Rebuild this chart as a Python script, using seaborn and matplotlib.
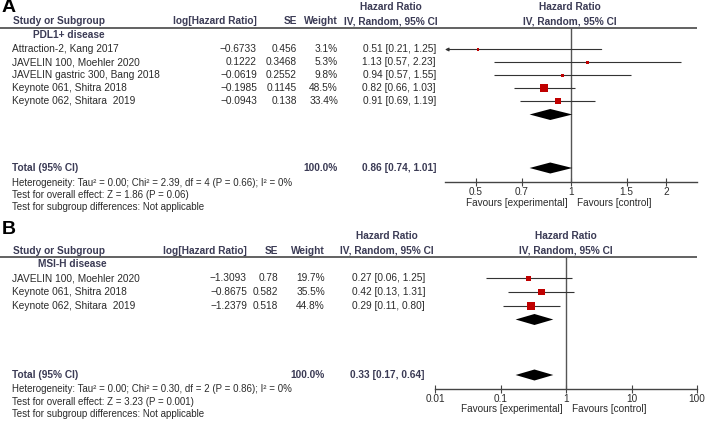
import numpy as np
import matplotlib
matplotlib.use("Agg")
import matplotlib.pyplot as plt
import seaborn as sns
from matplotlib.ticker import NullLocator

sns.set_theme(style="white")
plt.rcParams['font.family'] = ['Liberation Sans', 'DejaVu Sans']

# ---- data: panel A (PDL1+ disease)
studies_a = ["Attraction-2, Kang 2017", "JAVELIN 100, Moehler 2020",
             "JAVELIN gastric 300, Bang 2018", "Keynote 061, Shitra 2018",
             "Keynote 062, Shitara  2019"]
loghr_a = [-0.6733, 0.1222, -0.0619, -0.1985, -0.0943]
se_a = [0.456, 0.3468, 0.2552, 0.1145, 0.138]
weight_a = [3.1, 5.3, 9.8, 48.5, 33.4]
hr_a = [0.51, 1.13, 0.94, 0.82, 0.91]
lo_a = [0.21, 0.57, 0.57, 0.66, 0.69]
hi_a = [1.25, 2.23, 1.55, 1.03, 1.19]
pooled_a = [0.86, 0.74, 1.01]
ticks_a = [0.5, 0.7, 1, 1.5, 2]
stats_a = ["Heterogeneity: Tau\u00b2 = 0.00; Chi\u00b2 = 2.39, df = 4 (P = 0.66); I\u00b2 = 0%",
           "Test for overall effect: Z = 1.86 (P = 0.06)",
           "Test for subgroup differences: Not applicable"]

# ---- data: panel B (MSI-H disease)
studies_b = ["JAVELIN 100, Moehler 2020", "Keynote 061, Shitra 2018",
             "Keynote 062, Shitara  2019"]
loghr_b = [-1.3093, -0.8675, -1.2379]
se_b = [0.78, 0.582, 0.518]
weight_b = [19.7, 35.5, 44.8]
hr_b = [0.27, 0.42, 0.29]
lo_b = [0.06, 0.13, 0.11]
hi_b = [1.25, 1.31, 0.80]
pooled_b = [0.33, 0.17, 0.64]
ticks_b = [0.01, 0.1, 1, 10, 100]
stats_b = ["Heterogeneity: Tau\u00b2 = 0.00; Chi\u00b2 = 0.30, df = 2 (P = 0.86); I\u00b2 = 0%",
           "Test for overall effect: Z = 3.23 (P = 0.001)",
           "Test for subgroup differences: Not applicable"]

W, H = 709, 426
HEAD = '#3b3b55'
TXT = '#2b2b2b'
RED = '#c00000'
FS = 7.3

fig = plt.figure(figsize=(W / 100, H / 100), dpi=100)
bg = fig.add_axes([0, 0, 1, 1])
bg.set_xlim(0, W)
bg.set_ylim(H, 0)
bg.axis('off')


def fmt(v):
    return str(v).replace('-', '\u2212')


def panel(letter, letter_y, top, subgroup, studies, loghr, se, weight, hr, lo, hi, pooled,
          ticks, xlim, stats, cols, row0, step, diam_y, total_y, axis_y, sub_x):
    col_log, col_se, col_w, col_hr, hr_head, plot_head, ax_left = cols
    bg.text(2, letter_y, letter, fontsize=14, fontweight='bold', color='black', va='center')
    # headers
    bg.text(hr_head, top - 21, "Hazard Ratio", ha='center', va='center', fontsize=FS, fontweight='bold', color=HEAD)
    bg.text(plot_head, top - 21, "Hazard Ratio", ha='center', va='center', fontsize=FS, fontweight='bold', color=HEAD)
    hy = top - 6.5
    bg.text(13, hy, "Study or Subgroup", va='center', fontsize=FS, fontweight='bold', color=HEAD)
    bg.text(col_log, hy, "log[Hazard Ratio]", ha='right', va='center', fontsize=FS, fontweight='bold', color=HEAD)
    bg.text(col_se, hy, "SE", ha='right', va='center', fontsize=FS, fontweight='bold', color=HEAD)
    bg.text(col_w, hy, "Weight", ha='right', va='center', fontsize=FS, fontweight='bold', color=HEAD)
    bg.text(hr_head, hy, "IV, Random, 95% CI", ha='center', va='center', fontsize=FS, fontweight='bold', color=HEAD)
    bg.text(plot_head, hy, "IV, Random, 95% CI", ha='center', va='center', fontsize=FS, fontweight='bold', color=HEAD)
    bg.hlines(top, 0, 697, color='#555555', lw=1.3)
    bg.text(sub_x, top + 7, subgroup, va='center', fontsize=FS, fontweight='bold', color=HEAD)

    rows = [row0 + i * step for i in range(len(studies))]
    for y, s, l, e, w, h, a, b in zip(rows, studies, loghr, se, weight, hr, lo, hi):
        bg.text(12, y, s, va='center', fontsize=FS, color=TXT)
        bg.text(col_log, y, fmt(l), ha='right', va='center', fontsize=FS, color=TXT)
        bg.text(col_se, y, fmt(e), ha='right', va='center', fontsize=FS, color=TXT)
        bg.text(col_w, y, f"{w:.1f}%", ha='right', va='center', fontsize=FS, color=TXT)
        bg.text(col_hr, y, f"{h:.2f} [{a:.2f}, {b:.2f}]", ha='right', va='center', fontsize=FS, color=TXT)

    bg.text(12, total_y, "Total (95% CI)", va='center', fontsize=FS, fontweight='bold', color=HEAD)
    bg.text(col_w, total_y, "100.0%", ha='right', va='center', fontsize=FS, fontweight='bold', color=HEAD)
    bg.text(col_hr, total_y, f"{pooled[0]:.2f} [{pooled[1]:.2f}, {pooled[2]:.2f}]",
            ha='right', va='center', fontsize=FS, fontweight='bold', color=HEAD)
    for i, s in enumerate(stats):
        bg.text(12, total_y + 14.5 + 12.3 * i, s, va='center', fontsize=7.0, color=TXT)

    # forest axes in pixel-y units
    ax = fig.add_axes([ax_left / W, 1 - axis_y / H, (697 - ax_left) / W, (axis_y - top) / H])
    ax.set_facecolor('none')
    ax.set_xscale('log')
    ax.set_xlim(*xlim)
    ax.set_ylim(axis_y, top)
    ax.axvline(1, color='#555555', lw=1)
    for y, a, b in zip(rows, lo, hi):
        if a < xlim[0]:
            ax.annotate('', xy=(xlim[0], y), xytext=(b, y),
                        arrowprops=dict(arrowstyle='-|>', color='#333333', lw=0.8,
                                        mutation_scale=5, shrinkA=0, shrinkB=0))
        else:
            ax.hlines(y, a, min(b, xlim[1]), color='#333333', lw=0.8)
    k = 0.68
    sns.scatterplot(x=hr, y=rows, size=weight, sizes=(k * min(weight), k * max(weight)),
                    marker='s', color=RED, linewidth=0, legend=False, ax=ax, zorder=3)
    for y in (diam_y, total_y):
        est, a, b = pooled
        ax.fill([a, est, b, est], [y, y - 5.5, y, y + 5.5], color='black', lw=0, zorder=3)
    for sp in ('top', 'right', 'left'):
        ax.spines[sp].set_visible(False)
    ax.spines['bottom'].set_color('#444444')
    ax.spines['bottom'].set_linewidth(1)
    ax.set_yticks([])
    ax.set_xticks(ticks)
    ax.set_xticklabels([f"{t:g}" for t in ticks])
    ax.xaxis.set_minor_locator(NullLocator())
    ax.tick_params(axis='x', direction='inout', length=6, width=0.8, color='#444444',
                   pad=0.5, labelsize=7.2, labelcolor=TXT, bottom=True)
    ax.set_xlabel('')
    ax.set_ylabel('')
    # favours labels positioned around the null line
    xp = ax.transData.transform((1, 0))[0]
    bg.text(xp - 3, axis_y + 20.5, "Favours [experimental]", ha='right', va='center', fontsize=7.2, color=TXT)
    bg.text(xp + 6, axis_y + 20.5, "Favours [control]", ha='left', va='center', fontsize=7.2, color=TXT)
    return ax


panel("A", 8, 28, "PDL1+ disease", studies_a, loghr_a, se_a, weight_a, hr_a, lo_a, hi_a, pooled_a,
      ticks_a, (0.4, 2.5), stats_a, (257, 297, 338, 436, 391, 570, 445),
      49.5, 12.9, 114.5, 168, 182, 33)
panel("B", 230, 257, "MSI-H disease", studies_b, loghr_b, se_b, weight_b, hr_b, lo_b, hi_b, pooled_b,
      ticks_b, (0.01, 100), stats_b, (247, 278, 325, 425, 387, 566, 435),
      278.3, 13.7, 319.5, 375, 389, 38)

fig.savefig("out.png", dpi=100)
